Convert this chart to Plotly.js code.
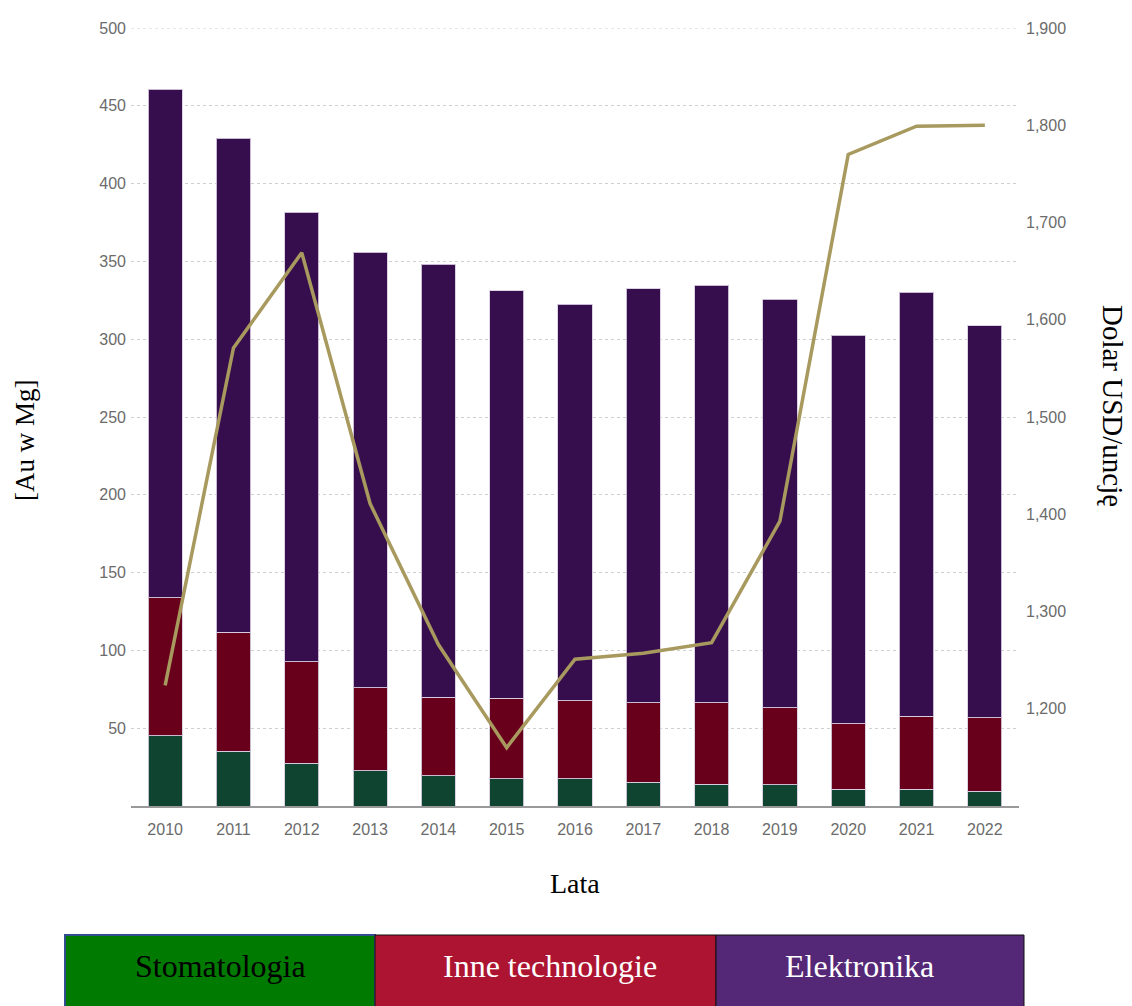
<!DOCTYPE html>
<html>
<head>
<meta charset="utf-8">
<script src="https://cdn.plot.ly/plotly-3.0.1.min.js"></script>
<style>html,body{margin:0;padding:0;background:#fff;}#chart{width:1132px;height:1006px;}</style>
</head>
<body>
<div id="chart"></div>
<script>
const years = ['2010','2011','2012','2013','2014','2015','2016','2017','2018','2019','2020','2021','2022'];
const stomatologia = [45, 35.3, 27.6, 22.5, 19.3, 17.4, 17.4, 15.4, 14.1, 13.5, 10.9, 10.9, 9.6];
const inneTechnologie = [88.7, 76.3, 65.1, 53.5, 50.7, 52, 50.1, 50.8, 52.1, 49.7, 42, 46.7, 47.1];
const elektronika = [327.1, 317.7, 289, 280, 278.3, 261.6, 255.1, 266.1, 268.6, 262.6, 249.8, 272.7, 251.8];
const goldPrice = [1224, 1571, 1669, 1411, 1266, 1160, 1251, 1257, 1268, 1393, 1770, 1799, 1800];
const leftTicks = [50,100,150,200,250,300,350,400,450,500];
const rightTicks = [1200,1300,1400,1500,1600,1700,1800,1900];
const legendNames = ['Stomatologia','Inne technologie','Elektronika'];

const barLine = {color:'rgba(215,205,225,0.9)', width:1};
const traces = [
  {type:'bar', x:years, y:stomatologia, name:legendNames[0], marker:{color:'#0f4530', line:barLine}},
  {type:'bar', x:years, y:inneTechnologie, name:legendNames[1], marker:{color:'#68001c', line:barLine}},
  {type:'bar', x:years, y:elektronika, name:legendNames[2], marker:{color:'#370e4d', line:barLine}},
  {type:'scatter', mode:'lines', x:years, y:goldPrice, yaxis:'y2', name:'Dolar', line:{color:'#a89a5e', width:3.5}}
];

// plot area in pixels: x 131..1019, y 28..806
const px = v => (v-131)/888;
const py = v => (806-v)/778;
const serif = 'Liberation Serif, Times New Roman, serif';
const boxes = [
  {x0:65, x1:375, tx:220, fill:'#007a00', line:'#2f4f8f', lw:2, text:'#000'},
  {x0:375, x1:716, tx:550, fill:'#ad1431', line:'#111', lw:1, text:'#fff'},
  {x0:716, x1:1024, tx:859, fill:'#552877', line:'#111', lw:1, text:'#fff'}
];
const shapes = boxes.map(b => ({type:'rect', xref:'paper', yref:'paper', x0:px(b.x0), x1:px(b.x1), y0:py(1010), y1:py(935), fillcolor:b.fill, line:{color:b.line, width:b.lw}, layer:'above'}));
// top gridline at 500 (range edge)
shapes.push({type:'line', xref:'paper', yref:'y', x0:0, x1:1, y0:leftTicks[leftTicks.length-1], y1:leftTicks[leftTicks.length-1], line:{color:'#cfcfcf', width:1, dash:'dot'}, layer:'below'});
const annotations = boxes.map((b,i) => ({xref:'paper', yref:'paper', x:px(b.tx), y:py(966), text:legendNames[i], showarrow:false, xanchor:'center', yanchor:'middle', font:{family:serif, size:32, color:b.text}}));
annotations.push({xref:'paper', yref:'paper', x:px(1113), y:py(406), text:'Dolar USD/uncję', showarrow:false, textangle:90, xanchor:'center', yanchor:'middle', font:{family:serif, size:29, color:'#000'}});
annotations.push({xref:'paper', yref:'paper', x:px(25), y:py(440), text:'[Au w Mg]', showarrow:false, textangle:-90, xanchor:'center', yanchor:'middle', font:{family:serif, size:27, color:'#000'}});
annotations.push({xref:'paper', yref:'paper', x:px(575), y:py(883), text:'Lata', showarrow:false, xanchor:'center', yanchor:'middle', font:{family:serif, size:28, color:'#000'}});

const layout = {
  width:1132, height:1006,
  margin:{l:131, r:113, t:28, b:200},
  paper_bgcolor:'#fff', plot_bgcolor:'#fff',
  barmode:'stack', bargap:0.5,
  showlegend:false,
  font:{family:'Liberation Sans, Arial, sans-serif', color:'#666'},
  xaxis:{type:'category', showline:true, linecolor:'#999', linewidth:2, ticks:'', showgrid:false, tickfont:{size:16, color:'#6b6b6b'}, ticklabelstandoff:8},
  yaxis:{range:[0,500], tickvals:leftTicks, showgrid:true, gridcolor:'#cfcfcf', griddash:'dot', gridwidth:1, zeroline:false, ticks:'', tickfont:{size:16, color:'#6b6b6b'}, ticklabelstandoff:4},
  yaxis2:{overlaying:'y', side:'right', range:[1100,1900], tickvals:rightTicks, tickformat:',', showgrid:false, zeroline:false, ticks:'', tickfont:{size:16, color:'#6b6b6b'}, ticklabelstandoff:6},
  shapes:shapes,
  annotations:annotations
};
Plotly.newPlot('chart', traces, layout, {displayModeBar:false, staticPlot:true});
</script>
</body>
</html>
